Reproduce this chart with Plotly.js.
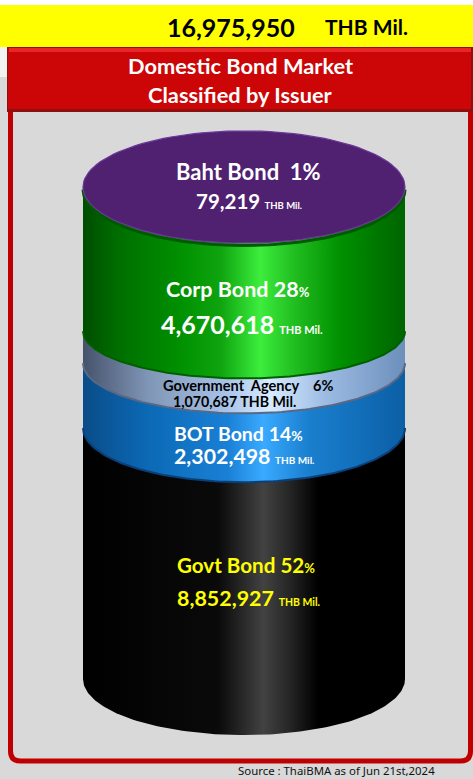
<!DOCTYPE html>
<html>
<head>
<meta charset="utf-8">
<script src="https://cdn.plot.ly/plotly-3.0.1.min.js"></script>
<style>html,body{margin:0;padding:0;background:#d9d9d9;overflow:hidden}#c{width:473px;height:779px}</style>
</head>
<body>
<div id="c"></div>
<script>
// ---- data (bottom of the cylinder upward) ----
const categories = ['Govt Bond', 'BOT Bond', 'Government  Agency', 'Corp Bond', 'Baht Bond'];
const percents = [52, 14, 6, 28, 1];
const valuesMil = ['8,852,927', '2,302,498', '1,070,687', '4,670,618', '79,219'];
const bandShare = [51.0, 13.2, 6.5, 29.3];   // height of each band as drawn, % of cylinder wall
const totalMil = '16,975,950';
const unitLabel = 'THB Mil.';
const titleLines = ['Domestic Bond Market', 'Classified by Issuer'];
const sourceText = 'Source : ThaiBMA as of Jun 21st,2024';

// ---- page frame helpers ----
const W = 473, H = 779;
const px = v => v / W, py = v => 1 - v / H;
const NB = '\u00a0';

// ---- axes: x in cylinder radii, y in % of wall height ----
const unitPx = 4.92, radiusPx = 161, centrePx = 244, basePx = 679;
const xRange = [-centrePx / radiusPx, (W - centrePx) / radiusPx];
const yRange = [-(H - basePx) / unitPx, basePx / unitPx];
const curve = [11.4, 11.0, 10.2, 9.6];   // arc depth under each band
const capDepth = 11.4;

const fills = [
  [[0,'#000'],[.42,'#0a0a0a'],[.56,'#424242'],[.64,'#262626'],[.73,'#000'],[1,'#000']],
  [[0,'#0a4c88'],[.2,'#0b69b5'],[.45,'#1a80d6'],[.56,'#39aaff'],[.7,'#1a7fcf'],[1,'#0b5fa5']],
  [[0,'#46526c'],[.2,'#7f95b5'],[.45,'#a8c4ea'],[.58,'#d8ebff'],[.75,'#9dbce4'],[1,'#6c8fbb']],
  [[0,'#004d00'],[.1,'#006c00'],[.3,'#009000'],[.43,'#0fa50f'],[.55,'#3ded3d'],[.65,'#22c022'],[.8,'#009000'],[1,'#006400']]
];
const edgeColours = ['#000000', '#0b3f78', '#5a6884', '#006000'];

function arc(y, depth, from, to) {
  const xs = [], ys = [];
  for (let i = 0; i <= 120; i++) {
    const a = from + (to - from) * i / 120;
    xs.push(Math.cos(a));
    ys.push(y + depth * Math.sin(a));
  }
  return {xs, ys};
}

const traces = [];
const tops = [];
let running = 0;
bandShare.forEach(s => { tops.push(running + s); running += s; });
const bottoms = [0].concat(tops.slice(0, -1));

bandShare.forEach((s, i) => {
  const lower = arc(bottoms[i], curve[i], Math.PI, 2 * Math.PI);
  const x = lower.xs.concat([1, -1, -1]);
  const y = lower.ys.concat([tops[i], tops[i], bottoms[i]]);
  traces.push({
    x, y, mode: 'lines', type: 'scatter', fill: 'toself', hoverinfo: 'skip',
    line: {width: 0, color: 'rgba(0,0,0,0)'},
    fillgradient: {type: 'horizontal', colorscale: fills[i]},
    name: categories[i], showlegend: false
  });
  if (i > 0) {
    traces.push({
      x: lower.xs, y: lower.ys, mode: 'lines', type: 'scatter', hoverinfo: 'skip',
      line: {width: 2, color: edgeColours[i]}, showlegend: false
    });
  }
});
// shadow and cap
const shade = arc(running - 0.5, capDepth, Math.PI, 2 * Math.PI);
traces.push({x: shade.xs, y: shade.ys, mode: 'lines', type: 'scatter', hoverinfo: 'skip',
  line: {width: 3, color: '#005a00'}, showlegend: false});
const cap = arc(running, capDepth, 0, 2 * Math.PI);
traces.push({x: cap.xs, y: cap.ys, mode: 'lines', type: 'scatter', fill: 'toself', hoverinfo: 'skip',
  fillcolor: '#4f2170', line: {width: 1.2, color: '#6c389c'}, name: categories[4], showlegend: false});

// ---- page furniture ----
const r = 10, fx0 = 10.5, fx1 = 470.5, fy1 = 761;
const frame = `M ${px(fx0)} ${py(110)} L ${px(fx0)} ${py(fy1 - r)} Q ${px(fx0)} ${py(fy1)} ${px(fx0 + r)} ${py(fy1)} ` +
  `L ${px(fx1 - r)} ${py(fy1)} Q ${px(fx1)} ${py(fy1)} ${px(fx1)} ${py(fy1 - r)} L ${px(fx1)} ${py(110)}`;
const rect = (x0, y0, x1, y1, c) => ({type: 'rect', xref: 'paper', yref: 'paper', layer: 'below',
  x0: px(x0), x1: px(x1), y0: py(y0), y1: py(y1), fillcolor: c, line: {width: 0}});
const shapes = [
  rect(0, 0, W, 5, '#ffffff'),
  rect(0, 47, 8, 77, '#f2f2f2'),
  {type: 'path', xref: 'paper', yref: 'paper', layer: 'below', path: frame, line: {color: '#c00000', width: 5}},
  rect(7, 47, W, 112, '#8f0f0f'),
  rect(8, 48, 471, 109, '#cc0606'),
  rect(9, 48, W - 2, 52, '#e8262a'),
  rect(0, 5, W, 47, '#ffff00')
];

const note = (text, x, y, size, colour, anchor) => ({
  text, x: px(x), y: py(y), xref: 'paper', yref: 'paper', showarrow: false,
  xanchor: anchor || 'center', yanchor: 'middle', align: 'left',
  font: {family: 'Lato, Carlito, sans-serif', size, color: colour}
});
const small = (s) => `<span style="font-size:${s}px"><b>${NB}${NB}${unitLabel}</b></span>`;
const pct = (p, s) => `${p}<span style="font-size:${s}px">%</span>`;

const annotations = [
  note(`<b>${totalMil}</b>`, 231, 27, 25, '#000'),
  note(`<b>${unitLabel}</b>`, 366, 26, 21, '#000'),
  note(`<b>${titleLines[0]}</b>`, 240, 65, 21.8, '#fff'),
  note(`<b>${titleLines[1]}</b>`, 240, 94, 21.8, '#fff'),

  note(`<b>${categories[4]}${NB}${NB}${percents[4]}%</b>`, 249, 172, 22, '#fff'),
  note(`<b>${valuesMil[4]}</b>` + small(9.5), 194, 201, 20.5, '#fff', 'left'),

  note(`<b>${categories[3]} ${pct(percents[3], 13)}</b>`, 238, 289, 21.5, '#fff'),
  note(`<b>${valuesMil[3]}</b>` + small(11), 159, 324, 25, '#fff', 'left'),

  note(`<b>Government${NB}${NB}Agency${NB}${NB}${NB}${NB}${percents[2]}%</b>`, 249, 385, 14.6, '#000'),
  note(`<b>${valuesMil[2]} ${unitLabel}</b>`, 234, 401, 14.2, '#000'),

  note(`<b>${categories[1]} ${pct(percents[1], 14)}</b>`, 238, 433, 19.5, '#fff'),
  note(`<b>${valuesMil[1]}</b>` + small(10), 172, 456, 21.3, '#fff', 'left'),

  note(`<b>${categories[0]} ${pct(percents[0], 13)}</b>`, 246, 565, 20.6, '#ffff00'),
  note(`<b>${valuesMil[0]}</b>` + small(10.5), 175, 598, 21.4, '#ffff00', 'left'),

  {text: sourceText, x: px(336), y: py(770.5), xref: 'paper', yref: 'paper', showarrow: false,
   xanchor: 'center', yanchor: 'middle', font: {family: '"Noto Sans", sans-serif', size: 11.4, color: '#111'}}
];

Plotly.newPlot('c', traces, {
  width: W, height: H, margin: {l: 0, r: 0, t: 0, b: 0},
  paper_bgcolor: '#d9d9d9', plot_bgcolor: 'rgba(0,0,0,0)',
  xaxis: {range: xRange, visible: false, fixedrange: true},
  yaxis: {range: yRange, visible: false, fixedrange: true},
  shapes, annotations, showlegend: false
}, {staticPlot: true, displayModeBar: false});
</script>
</body>
</html>
